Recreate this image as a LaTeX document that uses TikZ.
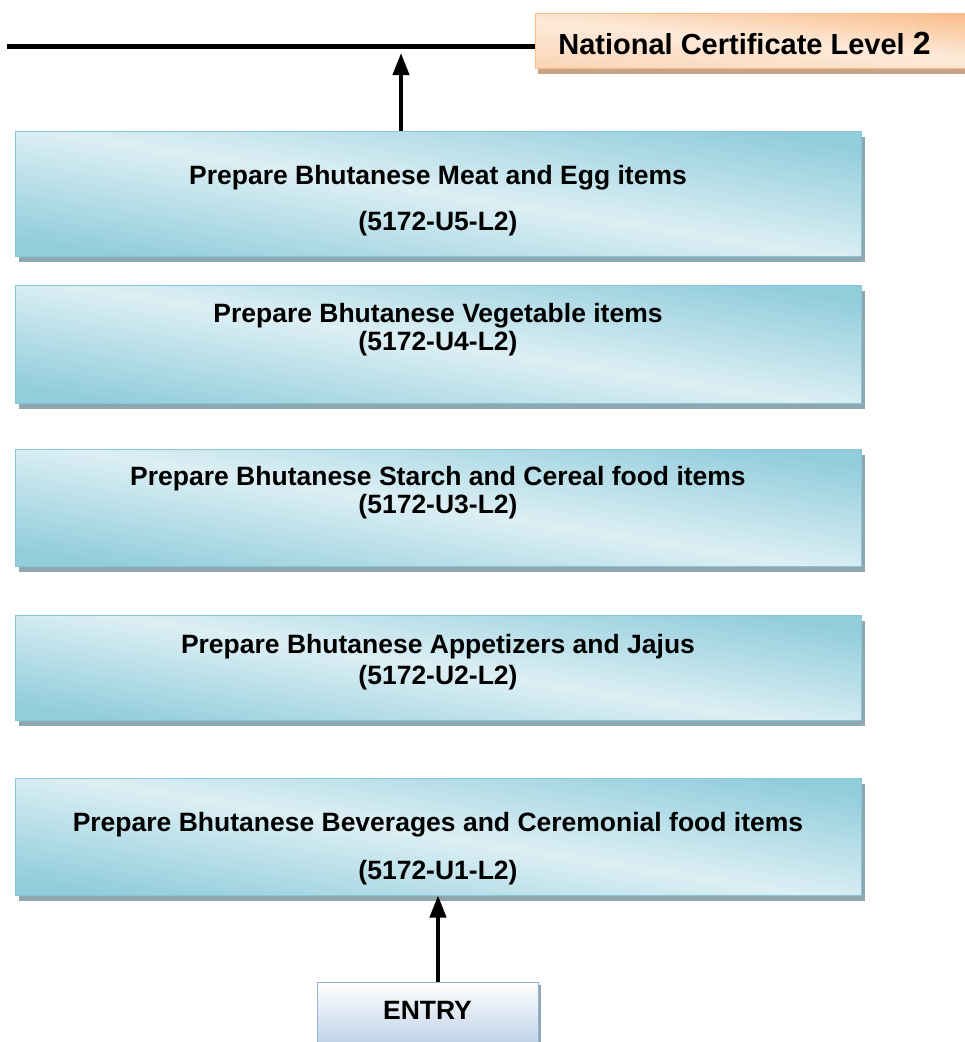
\documentclass[tikz,border=0pt]{standalone}
\usepackage{fontspec}
\setmainfont{Liberation Sans}
\usetikzlibrary{arrows.meta,shadows}
\definecolor{bdk}{RGB}{146,205,220}
\definecolor{blt}{RGB}{220,239,244}
\definecolor{bbrd}{RGB}{135,198,215}
\definecolor{bshd}{RGB}{143,168,176}
\definecolor{odk}{RGB}{250,190,140}
\definecolor{olt}{RGB}{253,234,218}
\definecolor{omd}{RGB}{251,214,184}
\definecolor{oshd}{RGB}{200,162,132}
\definecolor{edk}{RGB}{185,205,229}
\definecolor{ebrd}{RGB}{149,179,215}
\begin{document}
\begin{tikzpicture}[x=1pt,y=-1pt,
  unitbox/.style={draw=bbrd, line width=1pt, top color=bdk, bottom color=bdk, middle color=blt, shading angle=-9,
    minimum width=846pt, inner sep=0pt,
    drop shadow={shadow xshift=4pt, shadow yshift=-6pt, fill=bshd, opacity=1}},
  certbox/.style={draw=odk, line width=1pt, top color=odk, bottom color=omd, middle color=olt, shading angle=-5,
    minimum width=450pt, minimum height=55pt, inner sep=0pt,
    drop shadow={shadow xshift=3pt, shadow yshift=-6pt, fill=oshd, opacity=1}},
  entrybox/.style={draw=ebrd, line width=1pt, top color=white, bottom color=edk,
    minimum width=221pt, minimum height=68pt, inner sep=0pt,
    drop shadow={shadow xshift=3pt, shadow yshift=-3pt, fill=bshd, opacity=1}},
  lbl/.style={anchor=base, inner sep=0pt, font=\fontsize{26.5pt}{30pt}\selectfont\bfseries},
  arr/.style={line width=4pt, -{Triangle[length=22pt,width=16pt]}}]
\useasboundingbox (0,0) rectangle (965,1042);
\clip (0,0) rectangle (965,1042);

% boxes
\node[unitbox, minimum height=125pt] (b1) at (438,193.5) {};
\node[unitbox, minimum height=118pt] (b2) at (438,344) {};
\node[unitbox, minimum height=117pt] (b3) at (438,507.5) {};
\node[unitbox, minimum height=105pt] (b4) at (438,667.5) {};
\node[unitbox, minimum height=117pt] (b5) at (438,836.5) {};
\node[entrybox] (entry) at (427.5,1016) {};
\node[certbox] (cert) at (760,40.5) {};

% texts
\node[lbl] (t1a) at (438,184) {Prepare Bhutanese Meat and Egg items};
\node[lbl] (t1b) at (438,230) {(5172-U5-L2)};
\node[lbl] (t2a) at (438,322) {Prepare Bhutanese Vegetable items};
\node[lbl] (t2b) at (438,350) {(5172-U4-L2)};
\node[lbl] (t3a) at (438,485) {Prepare Bhutanese Starch and Cereal food items};
\node[lbl] (t3b) at (438,513) {(5172-U3-L2)};
\node[lbl] (t4a) at (438,653) {Prepare Bhutanese Appetizers and Jajus};
\node[lbl] (t4b) at (438,684) {(5172-U2-L2)};
\node[lbl] (t5a) at (438,831) {Prepare Bhutanese Beverages and Ceremonial food items};
\node[lbl] (t5b) at (438,879) {(5172-U1-L2)};
\node[lbl] (te) at (427.5,1019) {ENTRY};
\node[anchor=base, inner sep=0pt, font=\fontsize{29pt}{32pt}\selectfont\bfseries] (tc) at (744.5,54)
  {National Certificate Level {\fontsize{32pt}{34pt}\selectfont 2}};

% top line and arrows
\coordinate (ls) at (7,46);
\draw[line width=5pt] (ls) -- (ls -| cert.west);
\coordinate (a1) at (401,53);
\draw[arr] (b1.north -| a1) -- (a1);
\draw[arr] (entry.north -| b5.south) -- (b5.south);
\end{tikzpicture}
\end{document}
